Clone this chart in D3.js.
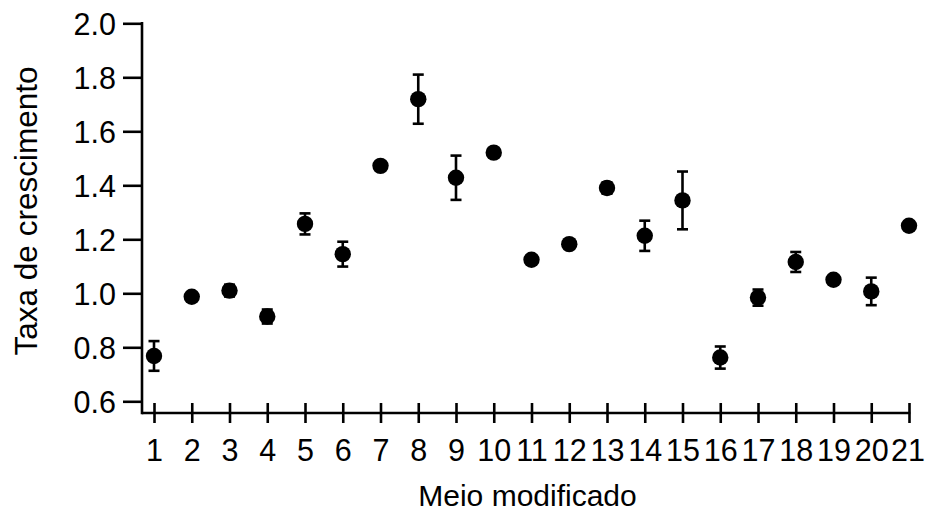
<!DOCTYPE html>
<html>
<head>
<meta charset="utf-8">
<script src="https://cdn.jsdelivr.net/npm/d3@7"></script>
<style>
	body { margin: 0; background: #fff; }
	svg { display: block; font-family: "Liberation Sans", Arial, sans-serif; }
	.tick text { font-size: 30.5px; fill: #000; }
	.axis_title { font-size: 30px; fill: #000; }
</style>
</head>
<body>
<div id="chart"></div>
<script>

// Meio modificado 1..21
var meios = d3.range(1, 22)
// taxa de crescimento (media)
var taxa = [0.768, 0.987, 1.010, 0.914, 1.257, 1.145, 1.472, 1.719, 1.428, 1.521,
			1.124, 1.182, 1.390, 1.213, 1.344, 0.762, 0.984, 1.116, 1.050, 1.007, 1.250]
// erro (+/-)
var erro = [0.055, 0.008, 0.022, 0.026, 0.039, 0.046, 0.010, 0.091, 0.082, 0.010,
			0.008, 0.008, 0.021, 0.056, 0.107, 0.041, 0.030, 0.037, 0.008, 0.051, 0.008]
var y_ticks = [0.6, 0.8, 1.0, 1.2, 1.4, 1.6, 1.8, 2.0]

var width = 925
var height = 511
var axis_x = 142   // y axis position
var axis_y = 413   // x axis position
var stroke_w = 2.6

var x = d3.scaleLinear().domain([1, 21]).range([154, 909])
var y = d3.scaleLinear().domain([0.6, 2.0]).range([401.3, 23.3])

var svg = d3.select("#chart").append("svg")
	.attr("width", width)
	.attr("height", height)

// y axis
var y_axis = svg.append("g")
	.attr("transform", "translate(" + axis_x + ",0)")
	.call(d3.axisLeft(y).tickValues(y_ticks).tickSize(19).tickPadding(7)
		.tickFormat(d3.format(".1f")))
y_axis.select(".domain").remove()
y_axis.selectAll(".tick line").attr("stroke", "#000").attr("stroke-width", stroke_w)
y_axis.selectAll(".tick text").attr("dy", "0.36em")

svg.append("line")
	.attr("x1", axis_x).attr("x2", axis_x)
	.attr("y1", y(2.0) - stroke_w / 2).attr("y2", axis_y + stroke_w / 2)
	.attr("stroke", "#000").attr("stroke-width", stroke_w)

// x axis
var x_axis = svg.append("g")
	.attr("transform", "translate(0," + axis_y + ")")
	.call(d3.axisBottom(x).tickValues(meios).tickSize(10).tickPadding(16))
x_axis.select(".domain").remove()
x_axis.selectAll(".tick line")
	.attr("y1", -10)
	.attr("stroke", "#000").attr("stroke-width", stroke_w)
// keep last label inside the page
x_axis.selectAll(".tick text")
	.attr("dx", function(d) { return d == 21 ? -1.5 : 0 })

svg.append("line")
	.attr("x1", axis_x).attr("x2", x(21) + stroke_w / 2)
	.attr("y1", axis_y).attr("y2", axis_y)
	.attr("stroke", "#000").attr("stroke-width", stroke_w)

// axis titles
svg.append("text")
	.attr("class", "axis_title")
	.attr("x", (axis_x + x(21)) / 2 + 2)
	.attr("y", 506)
	.attr("text-anchor", "middle")
	.text("Meio modificado")

svg.append("text")
	.attr("class", "axis_title")
	.style("font-size", "31.5px")
	.attr("transform", "translate(37," + 211 + ") rotate(-90)")
	.attr("text-anchor", "middle")
	.text("Taxa de crescimento")

// error bars + points
var data = _zip(meios, taxa, erro)

function _zip(a, b, c) {
	return a.map(function(d, i) { return [d, b[i], c[i]] })
}

var cap = 5.5

var bars = svg.append("g").selectAll(".err")
	.data(data)
	.enter()
	.append("g")
	.attr("class", "err")

bars.append("line")
	.attr("x1", function(d) { return x(d[0]) })
	.attr("x2", function(d) { return x(d[0]) })
	.attr("y1", function(d) { return y(d[1] - d[2]) })
	.attr("y2", function(d) { return y(d[1] + d[2]) })
	.attr("stroke", "#000").attr("stroke-width", stroke_w)

bars.append("line")
	.attr("x1", function(d) { return x(d[0]) - cap })
	.attr("x2", function(d) { return x(d[0]) + cap })
	.attr("y1", function(d) { return y(d[1] + d[2]) })
	.attr("y2", function(d) { return y(d[1] + d[2]) })
	.attr("stroke", "#000").attr("stroke-width", stroke_w)

bars.append("line")
	.attr("x1", function(d) { return x(d[0]) - cap })
	.attr("x2", function(d) { return x(d[0]) + cap })
	.attr("y1", function(d) { return y(d[1] - d[2]) })
	.attr("y2", function(d) { return y(d[1] - d[2]) })
	.attr("stroke", "#000").attr("stroke-width", stroke_w)

svg.append("g").selectAll(".pt")
	.data(data)
	.enter()
	.append("circle")
	.attr("class", "pt")
	.attr("cx", function(d) { return x(d[0]) })
	.attr("cy", function(d) { return y(d[1]) })
	.attr("r", 8.2)
	.attr("fill", "#000")

</script>
</body>
</html>
